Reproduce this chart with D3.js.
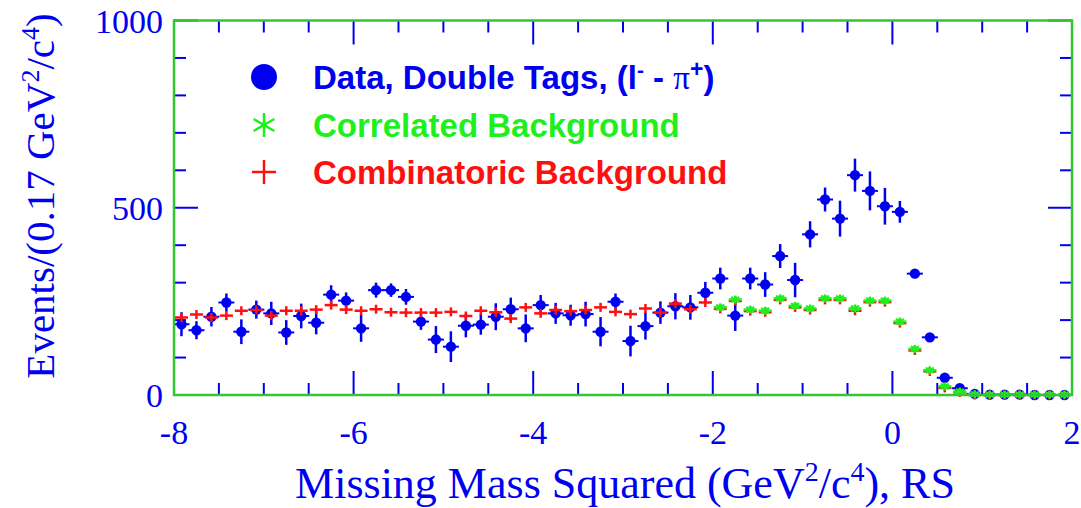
<!DOCTYPE html>
<html>
<head>
<meta charset="utf-8">
<script src="https://cdn.jsdelivr.net/npm/d3@7"></script>
<style>
body { margin: 0; background: #fff; }
</style>
</head>
<body>
<div id="chart"></div>
<script>
// Data
var binLow = -8;
var binWidth = 1 / 6;
var dataVals = [189,173,209,247,169,228,218,167,211,193,268,252,178,280,280,262,196,148,129,185,
	188,209,229,178,240,218,213,216,169,249,144,184,220,237,234,273,311,212,311,295,
	371,307,429,522,471,587,545,504,489,324,154,46,18,3,1,1,1,0,0,0];
var dataErrs = [32,24,26,24,33,24,31,33,33,31,25,22,36,20,18,21,22,36,41,31,
	27,36,31,37,27,28,28,33,39,22,41,36,30,35,33,29,29,41,29,33,
	32,46,35,32,48,44,52,49,29,12,10,8,6,3,2,1,1,1,1,1];
var combVals = [207,215,207,212,225,227,212,225,225,228,240,228,225,229,221,220,220,220,222,211,
	225,221,204,234,218,227,224,227,234,222,216,231,220,244,229,247,
	230,251,224,221,254,234,227,254,254,225,248,248,192,119,63,19,7,0,0,0,0,0,0,0];
var corrStart = 36;
var corrVals = [234,255,228,225,258,238,231,258,258,231,252,252,196,123,66,23,9,2,1,1,1,1,1,1];
var xTicks = [-8,-6,-4,-2,0,2];
var yTicks = [0,500,1000];

// Globals
var width = 1081;
var height = 508;
var blue = "#0000f0";
var green = "#1ef01e";
var red = "#ff1010";
var frameGreen = "#33c633";

var svg = d3.select("#chart")
	.append("svg")
	.attr("width", width)
	.attr("height", height);

var margin = {t:20.5, r:9, b:113, l:174};

var xAxis = d3.scaleLinear()
	.domain([-8, 2])
	.range([margin.l, width - margin.r]);
var yAxis = d3.scaleLinear()
	.domain([0, 1000])
	.range([height - margin.b, margin.t]);

function binCenter(i) { return xAxis(binLow + (i + 0.5) * binWidth); }

// Ticks on all four sides
var tickG = svg.append("g").attr("stroke", blue).attr("stroke-width", 2);
var x0 = xAxis.range()[0], x1 = xAxis.range()[1];
var y0 = yAxis.range()[0], y1 = yAxis.range()[1];
d3.range(-8, 2.01, 0.5).forEach(function(v) {
	var len = (Math.abs(v % 2) < 0.01) ? 24 : 12;
	var px = xAxis(v);
	tickG.append("line").attr("x1", px).attr("x2", px).attr("y1", y0).attr("y2", y0 - len);
	tickG.append("line").attr("x1", px).attr("x2", px).attr("y1", y1).attr("y2", y1 + len);
});
d3.range(0, 1001, 100).forEach(function(v) {
	var len = (v % 500 == 0) ? 24 : 12;
	var py = yAxis(v);
	tickG.append("line").attr("x1", x0).attr("x2", x0 + len).attr("y1", py).attr("y2", py);
	tickG.append("line").attr("x1", x1).attr("x2", x1 - len).attr("y1", py).attr("y2", py);
});

// Tick labels
svg.selectAll(".xlab")
	.data(xTicks)
	.enter().append("text")
		.attr("x", function(d) { return xAxis(d); })
		.attr("y", 444)
		.attr("text-anchor", "middle")
		.style("font-family", "Liberation Serif, serif")
		.style("font-size", "34px")
		.style("fill", blue)
		.text(function(d) { return d; });

svg.selectAll(".ylab")
	.data(yTicks)
	.enter().append("text")
		.attr("x", 163)
		.attr("y", function(d) { return yAxis(d) + 12; })
		.attr("text-anchor", "end")
		.style("font-family", "Liberation Serif, serif")
		.style("font-size", "34px")
		.style("fill", blue)
		.text(function(d) { return d; });

// Axis titles
var xt = svg.append("text")
	.attr("x", 625).attr("y", 498)
	.attr("text-anchor", "middle")
	.style("font-family", "Liberation Serif, serif")
	.style("font-size", "44px")
	.style("fill", blue);
xt.append("tspan").text("Missing Mass Squared (GeV");
xt.append("tspan").attr("dy", -17).style("font-size", "28px").text("2");
xt.append("tspan").attr("dy", 17).text("/c");
xt.append("tspan").attr("dy", -17).style("font-size", "28px").text("4");
xt.append("tspan").attr("dy", 17).text("), RS");

var yt = svg.append("text")
	.attr("transform", "translate(54,196) rotate(-90)")
	.attr("text-anchor", "middle")
	.style("font-family", "Liberation Serif, serif")
	.style("font-size", "41px")
	.style("fill", blue);
yt.append("tspan").text("Events/(0.17 GeV");
yt.append("tspan").attr("dy", -15).style("font-size", "26px").text("2");
yt.append("tspan").attr("dy", 15).text("/c");
yt.append("tspan").attr("dy", -15).style("font-size", "26px").text("4");
yt.append("tspan").attr("dy", 15).text(")");

// Data points with error bars
var dataG = svg.append("g");
dataVals.forEach(function(v, i) {
	var cx = binCenter(i);
	dataG.append("line")
		.attr("x1", cx).attr("x2", cx)
		.attr("y1", yAxis(v - dataErrs[i])).attr("y2", yAxis(v + dataErrs[i]))
		.attr("stroke", blue).attr("stroke-width", 2.5);
	dataG.append("line")
		.attr("x1", cx - 8).attr("x2", cx + 8)
		.attr("y1", yAxis(v)).attr("y2", yAxis(v))
		.attr("stroke", blue).attr("stroke-width", 2);
	dataG.append("circle")
		.attr("cx", cx).attr("cy", yAxis(v)).attr("r", 5.2)
		.attr("fill", blue);
});

// Marker helpers
function drawPlus(g, cx, cy, hw, hh, col) {
	g.append("line").attr("x1", cx - hw).attr("x2", cx + hw).attr("y1", cy).attr("y2", cy)
		.attr("stroke", col).attr("stroke-width", 2.5);
	g.append("line").attr("x1", cx).attr("x2", cx).attr("y1", cy - hh).attr("y2", cy + hh)
		.attr("stroke", col).attr("stroke-width", 2.5);
}
function drawStar(g, cx, cy, hw, hh, col) {
	drawPlus(g, cx, cy, hw, hh, col);
	g.append("line").attr("x1", cx - hh).attr("x2", cx + hh).attr("y1", cy - hh * 0.7).attr("y2", cy + hh * 0.7)
		.attr("stroke", col).attr("stroke-width", 2);
	g.append("line").attr("x1", cx - hh).attr("x2", cx + hh).attr("y1", cy + hh * 0.7).attr("y2", cy - hh * 0.7)
		.attr("stroke", col).attr("stroke-width", 2);
}
function drawAsterisk(g, cx, cy, r, col) {
	[90, 30, -30].forEach(function(a) {
		var dx = r * Math.cos(a * Math.PI / 180), dy = r * Math.sin(a * Math.PI / 180);
		g.append("line").attr("x1", cx - dx).attr("x2", cx + dx).attr("y1", cy - dy).attr("y2", cy + dy)
			.attr("stroke", col).attr("stroke-width", 2.5);
	});
}

// Combinatoric background
var combG = svg.append("g");
combVals.forEach(function(v, i) {
	drawPlus(combG, binCenter(i), yAxis(v), 6.5, 4.5, red);
});

// Correlated background
var corrG = svg.append("g");
corrVals.forEach(function(v, i) {
	drawStar(corrG, binCenter(i + corrStart), yAxis(v), 6.5, 4, green);
});

// Frame
svg.append("rect")
	.attr("x", x0).attr("y", y1)
	.attr("width", x1 - x0).attr("height", y0 - y1)
	.attr("fill", "none")
	.attr("stroke", frameGreen).attr("stroke-width", 2.5);

// Legend
var legG = svg.append("g");
legG.append("circle").attr("cx", 264).attr("cy", 77).attr("r", 13).attr("fill", blue);
drawAsterisk(legG, 264, 125, 12, green);
drawPlus(legG, 264, 172, 12, 12, red);

function legText(y, col) {
	return legG.append("text")
		.attr("x", 313).attr("y", y)
		.style("font-family", "Liberation Sans, Arial, sans-serif")
		.style("font-weight", "bold")
		.style("font-size", "33px")
		.style("fill", col);
}
var t1 = legText(89, blue);
t1.append("tspan").text("Data, Double Tags, (l");
t1.append("tspan").attr("dy", -12).style("font-size", "21px").text("-");
t1.append("tspan").attr("dy", 12).text(" - ");
t1.append("tspan").style("font-family", "Liberation Serif, serif").style("font-weight", "normal").text("\u03c0");
t1.append("tspan").attr("dy", -12).style("font-size", "23px").text("+");
t1.append("tspan").attr("dy", 12).text(")");
legText(137, green).text("Correlated Background");
legText(184, red).text("Combinatoric Background");
</script>
</body>
</html>
